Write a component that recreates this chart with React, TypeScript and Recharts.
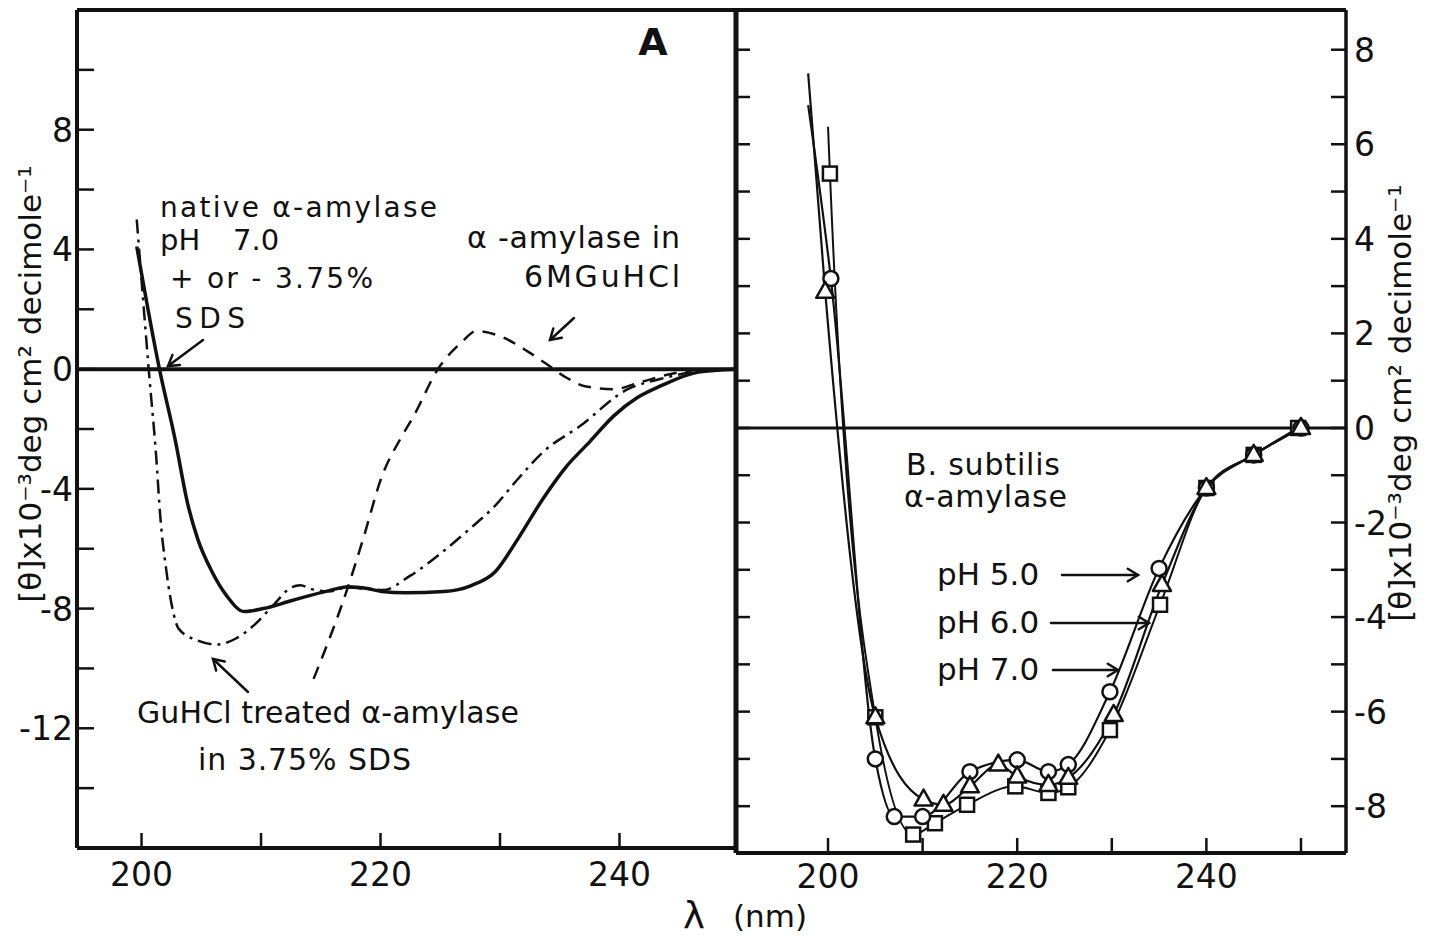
import React from 'react';
import { ComposedChart, Line, XAxis, YAxis, ReferenceLine } from 'recharts';

const FONT = '"DejaVu Sans", Verdana, sans-serif';
const INK = '#111';

// ---------- Panel A (left) ----------
const aXTicks = [200, 210, 220, 230, 240];
const aXLabelled = [200, 220, 240];
const aYTicks = [-14, -12, -10, -8, -6, -4, -2, 0, 2, 4, 6, 8, 10];
const aYLabelled = [-12, -8, -4, 0, 4, 8];

// native alpha-amylase pH 7.0 +/- SDS (solid)
const nativeWl = [199.6, 201.5, 202.8, 203.9, 204.7, 205.9, 207.1, 208.6, 210.2, 212.6, 215.7, 217.3, 218.9, 220.1, 222.1, 225.3, 227.6, 229.6, 231.5, 233.6, 235.5, 237.5, 239.5, 241.5, 243.4, 246.6, 249.7];
const nativeTheta = [4.1, 0, -2.33, -4.56, -5.67, -6.77, -7.56, -8.1, -8.0, -7.73, -7.4, -7.27, -7.33, -7.43, -7.47, -7.43, -7.23, -6.77, -5.67, -4.33, -3.28, -2.43, -1.57, -0.95, -0.57, -0.1, 0];

// GuHCl treated alpha-amylase in 3.75% SDS (dash-dot)
const sdsWl = [199.6, 200.6, 201.3, 201.5, 202.1, 202.7, 203.1, 204.7, 206.3, 207.9, 209.4, 211.0, 212.5, 213.3, 214.2, 215.7, 217.3, 219.0, 220.2, 222.5, 224.9, 227.2, 229.6, 231.5, 233.6, 236.7, 240.7, 243.4, 246.6, 249.7];
const sdsTheta = [5.0, 0, -3.33, -4.56, -6.8, -8.2, -8.67, -9.07, -9.2, -9.0, -8.56, -7.9, -7.3, -7.22, -7.35, -7.42, -7.3, -7.35, -7.38, -6.9, -6.2, -5.43, -4.56, -3.67, -2.77, -1.9, -0.67, -0.33, -0.07, 0];

// alpha-amylase in 6 M GuHCl (dashed)
const guWl = [214.4, 217.3, 218.6, 220.1, 221.7, 222.8, 224.8, 226.8, 228.0, 230.0, 232.4, 233.9, 235.5, 237.1, 239.5, 241.8, 244.2, 247.4, 249.7];
const guTheta = [-10.35, -7.25, -5.6, -3.6, -2.3, -1.55, 0, 0.9, 1.27, 1.1, 0.57, 0.17, -0.27, -0.57, -0.67, -0.43, -0.17, 0, 0];

// ---------- Panel B (right) ----------
const bXTicks = [200, 210, 220, 230, 240, 250];
const bXLabelled = [200, 220, 240];
const bYTicks = [-8, -7, -6, -5, -4, -3, -2, -1, 0, 1, 2, 3, 4, 5, 6, 7, 8];
const bYLabelled = [-8, -6, -4, -2, 0, 2, 4, 6, 8];

// pH 5.0 (circles)
const ph5Wl = [200.3, 205.0, 207.0, 210.0, 215.0, 220.0, 223.3, 225.4, 229.8, 235.0, 240.0, 245.0, 250.0];
const ph5Theta = [3.16, -7.0, -8.22, -8.22, -7.27, -7.02, -7.27, -7.12, -5.58, -2.97, -1.27, -0.57, 0];
const ph5TipWl = [197.9];
const ph5TipTheta = [6.83];

// pH 6.0 (triangles)
const ph6Wl = [199.7, 205.0, 210.1, 212.2, 215.0, 218.0, 220.0, 223.3, 225.4, 230.2, 235.3, 240.0, 245.0, 250.0];
const ph6Theta = [2.88, -6.12, -7.86, -7.97, -7.58, -7.12, -7.37, -7.55, -7.4, -6.07, -3.32, -1.27, -0.57, 0];
const ph6TipWl = [197.9];
const ph6TipTheta = [7.5];

// pH 7.0 (squares)
const ph7Wl = [200.2, 205.0, 209.0, 211.3, 214.7, 219.8, 223.3, 225.4, 229.8, 235.1, 240.0, 245.0, 249.7];
const ph7Theta = [5.38, -6.12, -8.6, -8.36, -7.97, -7.58, -7.72, -7.6, -6.39, -3.74, -1.27, -0.57, 0];
const ph7TipWl = [200.0];
const ph7TipTheta = [6.37];

const zip = (xs: number[], ys: number[]) => xs.map((x, i) => ({ x, y: ys[i] }));

const nativeData = zip(nativeWl, nativeTheta);
const sdsData = zip(sdsWl, sdsTheta);
const guData = zip(guWl, guTheta);
const ph5Pts = zip(ph5Wl, ph5Theta);
const ph6Pts = zip(ph6Wl, ph6Theta);
const ph7Pts = zip(ph7Wl, ph7Theta);
const ph5Curve = [...zip(ph5TipWl, ph5TipTheta), ...ph5Pts];
const ph6Curve = [...zip(ph6TipWl, ph6TipTheta), ...ph6Pts];
const ph7Curve = [...zip(ph7TipWl, ph7TipTheta), ...ph7Pts];

// ---------- tick renderers (inward ticks) ----------
const bottomTick = (labelled: number[], len: number, dy: number) => (p: any) => {
  const v = p.payload.value;
  return (
    <g key={'b' + v}>
      <line x1={p.x} x2={p.x} y1={p.y} y2={p.y - len} stroke={INK} strokeWidth={2.5} />
      {labelled.includes(v) ? (
        <text x={p.x} y={p.y + dy} textAnchor="middle" fontFamily={FONT} fontSize={33} fill={INK}>{v}</text>
      ) : null}
    </g>
  );
};
const leftTick = (labelled: number[], len: number) => (p: any) => {
  const v = p.payload.value;
  return (
    <g key={'l' + v}>
      <line x1={p.x} x2={p.x + len} y1={p.y} y2={p.y} stroke={INK} strokeWidth={2.5} />
      {labelled.includes(v) ? (
        <text x={p.x - 4} y={p.y + 12} textAnchor="end" fontFamily={FONT} fontSize={33} fill={INK}>{v}</text>
      ) : null}
    </g>
  );
};
const rightTick = (labelled: number[], len: number) => (p: any) => {
  const v = p.payload.value;
  return (
    <g key={'r' + v}>
      <line x1={p.x} x2={p.x - len} y1={p.y} y2={p.y} stroke={INK} strokeWidth={2.5} />
      {labelled.includes(v) ? (
        <text x={p.x + 8} y={p.y + 12} textAnchor="start" fontFamily={FONT} fontSize={33} fill={INK}>{v}</text>
      ) : null}
    </g>
  );
};

const circleDot = (p: any) => (
  <circle key={'c' + p.index} cx={p.cx} cy={p.cy} r={7.5} fill="#fff" stroke={INK} strokeWidth={2.5} />
);
const triDot = (p: any) => (
  <polygon key={'t' + p.index} points={`${p.cx},${p.cy - 10} ${p.cx - 9},${p.cy + 6} ${p.cx + 9},${p.cy + 6}`} fill="#fff" stroke={INK} strokeWidth={2.5} strokeLinejoin="round" />
);
const sqDot = (p: any) => (
  <rect key={'s' + p.index} x={p.cx - 7} y={p.cy - 7} width={14} height={14} fill="#fff" stroke={INK} strokeWidth={2.5} />
);

const arrow = (x1: number, y1: number, x2: number, y2: number, key: string, head = 12) => {
  const a = Math.atan2(y2 - y1, x2 - x1);
  const s = 0.55;
  const hx1 = x2 - head * Math.cos(a - s);
  const hy1 = y2 - head * Math.sin(a - s);
  const hx2 = x2 - head * Math.cos(a + s);
  const hy2 = y2 - head * Math.sin(a + s);
  return (
    <g key={key} stroke={INK} strokeWidth={2.5} fill="none" strokeLinecap="round">
      <line x1={x1} y1={y1} x2={x2} y2={y2} />
      <polyline points={`${hx1},${hy1} ${x2},${y2} ${hx2},${hy2}`} />
    </g>
  );
};

const txt = { fontFamily: FONT, fontSize: 30, fill: INK, lengthAdjust: 'spacing' } as const;
const txtS = { fontFamily: FONT, fontSize: 28, fill: INK, lengthAdjust: 'spacing' } as const;

function PanelA() {
  return (
    <ComposedChart width={740} height={941} margin={{ top: 10, right: 4, bottom: 0, left: 0 }}>
      <XAxis type="number" dataKey="x" domain={[194.6, 249.75]} allowDataOverflow ticks={aXTicks} interval={0}
        height={93} tickSize={0} tickMargin={0} tickLine={false}
        axisLine={{ stroke: INK, strokeWidth: 4 }} tick={bottomTick(aXLabelled, 15, 38)} />
      <YAxis yAxisId="l" type="number" domain={[-16, 12]} allowDataOverflow ticks={aYTicks} interval={0}
        width={77} tickSize={0} tickMargin={0} tickLine={false}
        axisLine={{ stroke: INK, strokeWidth: 4 }} tick={leftTick(aYLabelled, 17)} />
      <YAxis yAxisId="r" orientation="right" type="number" domain={[-16, 12]} allowDataOverflow ticks={aYTicks} interval={0}
        width={0} tickSize={0} tickMargin={0} tickLine={false}
        axisLine={{ stroke: INK, strokeWidth: 5 }} tick={rightTick([], 17)} />
      <ReferenceLine yAxisId="r" y={12} stroke={INK} strokeWidth={4} />
      <ReferenceLine yAxisId="l" y={0} stroke={INK} strokeWidth={4} />
      <Line yAxisId="l" data={guData} dataKey="y" type="monotone" stroke={INK} strokeWidth={2.5}
        strokeDasharray="13 9" dot={false} activeDot={false} isAnimationActive={false} />
      <Line yAxisId="l" data={sdsData} dataKey="y" type="monotone" stroke={INK} strokeWidth={2.5}
        strokeDasharray="14 6 3 6" dot={false} activeDot={false} isAnimationActive={false} />
      <Line yAxisId="l" data={nativeData} dataKey="y" type="monotone" stroke={INK} strokeWidth={3.5}
        dot={false} activeDot={false} isAnimationActive={false} />
    </ComposedChart>
  );
}

function PanelB() {
  return (
    <ComposedChart width={729} height={941} margin={{ top: 10, right: 0, bottom: 0, left: 0 }}>
      <XAxis type="number" dataKey="x" domain={[190.27, 254.76]} allowDataOverflow ticks={bXTicks} interval={0}
        height={88} tickSize={0} tickMargin={0} tickLine={false}
        axisLine={{ stroke: INK, strokeWidth: 4 }} tick={bottomTick(bXLabelled, 15, 35)} />
      <YAxis yAxisId="l" type="number" domain={[-8.99, 8.84]} allowDataOverflow ticks={bYTicks} interval={0}
        width={36} tickSize={0} tickMargin={0} tickLine={false}
        axisLine={{ stroke: INK, strokeWidth: 5 }} tick={leftTick([], 14)} />
      <YAxis yAxisId="r" orientation="right" type="number" domain={[-8.99, 8.84]} allowDataOverflow ticks={bYTicks} interval={0}
        width={83} tickSize={0} tickMargin={0} tickLine={false}
        axisLine={{ stroke: INK, strokeWidth: 3.5 }} tick={rightTick(bYLabelled, 15)} />
      <ReferenceLine yAxisId="r" y={8.84} stroke={INK} strokeWidth={4} />
      <ReferenceLine yAxisId="r" y={0} stroke={INK} strokeWidth={3} />
      <Line yAxisId="l" data={ph7Curve} dataKey="y" type="monotone" stroke={INK} strokeWidth={2}
        dot={false} activeDot={false} isAnimationActive={false} />
      <Line yAxisId="l" data={ph6Curve} dataKey="y" type="monotone" stroke={INK} strokeWidth={2.2}
        dot={false} activeDot={false} isAnimationActive={false} />
      <Line yAxisId="l" data={ph5Curve} dataKey="y" type="monotone" stroke={INK} strokeWidth={2.2}
        dot={false} activeDot={false} isAnimationActive={false} />
      <Line yAxisId="l" data={ph7Pts} dataKey="y" stroke="none" dot={sqDot} activeDot={false} isAnimationActive={false} />
      <Line yAxisId="l" data={ph5Pts} dataKey="y" stroke="none" dot={circleDot} activeDot={false} isAnimationActive={false} />
      <Line yAxisId="l" data={ph6Pts} dataKey="y" stroke="none" dot={triDot} activeDot={false} isAnimationActive={false} />
    </ComposedChart>
  );
}

export default function App() {
  return (
    <div style={{ position: 'absolute', left: 0, top: 0, width: 1429, height: 941, background: '#fff', overflow: 'hidden' }}>
      <div style={{ position: 'absolute', left: 0, top: 0 }}>
        <PanelA />
      </div>
      <div style={{ position: 'absolute', left: 700, top: 0 }}>
        <PanelB />
      </div>
      <svg width={1429} height={941} style={{ position: 'absolute', left: 0, top: 0, pointerEvents: 'none' }}>
        {/* Panel A annotations */}
        <text x={653} y={55} textAnchor="middle" fontFamily={FONT} fontSize={38} fontWeight="bold" fill={INK}>A</text>
        <text x={160} y={217} textLength={277} {...txtS}>native α-amylase</text>
        <text x={160} y={250} fontFamily={FONT} fontSize={29} fill={INK}>pH<tspan x={233}>7.0</tspan></text>
        <text x={170} y={288} textLength={203} {...txtS}>+ or  - 3.75%</text>
        <text x={175} y={328} textLength={70} {...txtS}>SDS</text>
        <text x={467} y={248} textLength={213} {...txt}>α -amylase in</text>
        <text x={524} y={287} textLength={156} {...txt}>6MGuHCl</text>
        <text x={137} y={723} textLength={382} {...txt}>GuHCl treated α-amylase</text>
        <text x={198} y={770} textLength={213} {...txt}>in 3.75% SDS</text>
        {arrow(203, 340, 168, 366, 'a1')}
        {arrow(574, 318, 550, 340, 'a2')}
        {arrow(248, 692, 213, 659, 'a3')}
        {/* Panel B annotations */}
        <text x={906} y={475} textLength={154} {...txt}>B. subtilis</text>
        <text x={904} y={507} textLength={163} {...txt}>α-amylase</text>
        <text x={937} y={585} fontFamily={FONT} fontSize={31} fill={INK}>pH 5.0</text>
        <text x={937} y={633} fontFamily={FONT} fontSize={31} fill={INK}>pH 6.0</text>
        <text x={937} y={680} fontFamily={FONT} fontSize={31} fill={INK}>pH 7.0</text>
        {arrow(1062, 575, 1138, 575, 'b1')}
        {arrow(1051, 623, 1149, 623, 'b2')}
        {arrow(1053, 670, 1118, 670, 'b3')}
        {/* axis titles */}
        <text x={694} y={929} textAnchor="middle" fontFamily={FONT} fontSize={37} fill={INK}>λ</text>
        <text x={733} y={927} fontFamily={FONT} fontSize={31} fill={INK}>(nm)</text>
        <text x={41} y={384} transform="rotate(-90 41 384)" textAnchor="middle" fontFamily={FONT} fontSize={31} fill={INK}>[θ]x10⁻³deg cm² decimole⁻¹</text>
        <text x={1411} y={403} transform="rotate(-90 1411 403)" textAnchor="middle" fontFamily={FONT} fontSize={31} fill={INK}>[θ]x10⁻³deg cm² decimole⁻¹</text>
      </svg>
    </div>
  );
}
